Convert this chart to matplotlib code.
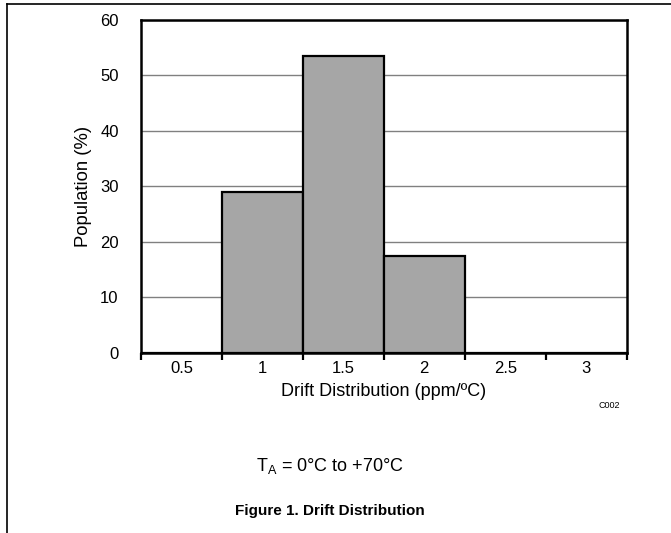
import matplotlib.pyplot as plt
from matplotlib.lines import Line2D

plt.rcParams['font.family'] = ['Liberation Sans', 'DejaVu Sans']

# data
bins = ['0.5', '1', '1.5', '2', '2.5', '3']
population = [0, 29, 53.5, 17.5, 0, 0]
y_ticks = [0, 10, 20, 30, 40, 50, 60]

fig = plt.figure(figsize=(6.71, 5.33), dpi=100)
ax = fig.add_axes([0.210, 0.3377, 0.724, 0.625])

x = list(range(len(bins)))
ax.bar(x, population, width=1.0, color='#a6a6a6', edgecolor='black',
       linewidth=1.6, zorder=3)

ax.set_xlim(-0.5, len(bins) - 0.5)
ax.set_ylim(0, 60)
ax.set_yticks(y_ticks)
ax.yaxis.grid(True, color='#808080', linewidth=1.0, zorder=0)
ax.set_axisbelow(True)

ax.set_xticks(x)
ax.set_xticklabels(bins, fontsize=12)
ax.set_xticks([i - 0.5 for i in range(len(bins) + 1)], minor=True)
ax.tick_params(axis='x', which='major', length=0, pad=6)
ax.tick_params(axis='x', which='minor', length=5, width=1.6, direction='out')
ax.tick_params(axis='y', length=0, pad=16, labelsize=12)

for s in ax.spines.values():
    s.set_linewidth(1.8)

ax.set_ylabel('Population (%)', fontsize=13.3, labelpad=6)
ax.set_xlabel('Drift Distribution (ppm/ºC)', fontsize=13, labelpad=5)

fig.text(609 / 671, 1 - 406 / 533, 'C002', fontsize=6.5, ha='center', va='center')
fig.text(330 / 671, 1 - 466 / 533, r'T$_\mathregular{A}$ = 0°C to +70°C',
         fontsize=13, ha='center', va='center')
fig.text(330 / 671, 1 - 511 / 533, 'Figure 1. Drift Distribution',
         fontsize=11, fontweight='bold', ha='center', va='center')

# page frame: top and left edges
fig.add_artist(Line2D([7 / 671, 1.0], [1 - 4 / 533, 1 - 4 / 533],
                      transform=fig.transFigure, color='black', linewidth=1.2))
fig.add_artist(Line2D([7 / 671, 7 / 671], [0, 1 - 4 / 533],
                      transform=fig.transFigure, color='black', linewidth=1.2))

fig.savefig('out.png', dpi=100)
